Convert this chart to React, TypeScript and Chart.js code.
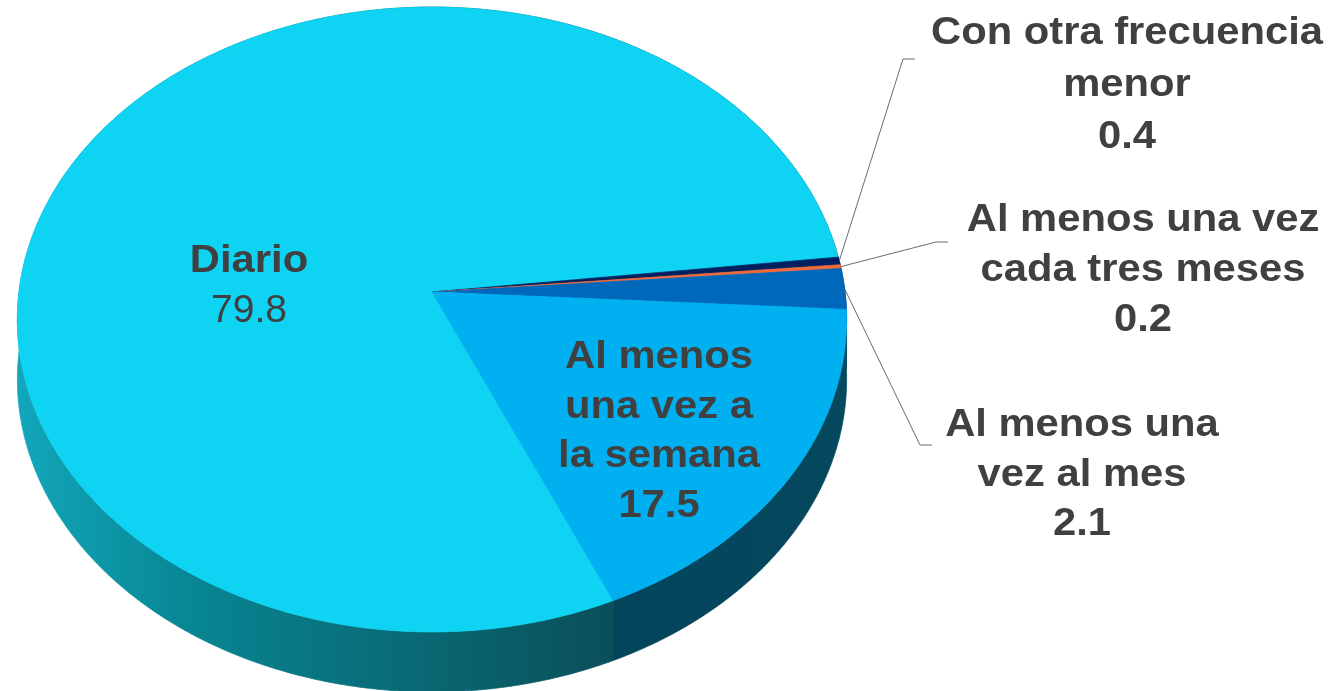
import React, { useEffect, useRef } from 'react';
import { Chart, registerables } from 'chart.js';

Chart.register(...registerables);

// ---- data ----
const categories = [
  'Diario',
  'Con otra frecuencia menor',
  'Al menos una vez cada tres meses',
  'Al menos una vez al mes',
  'Al menos una vez a la semana',
];
const values = [79.8, 0.4, 0.2, 2.1, 17.5];
const labelLines = [
  ['Diario'],
  ['Con otra frecuencia', 'menor'],
  ['Al menos una vez', 'cada tres meses'],
  ['Al menos una', 'vez al mes'],
  ['Al menos', 'una vez a', 'la semana'],
];

// ---- style ----
const topColors = ['#0fd3f3', '#002060', '#f26a3b', '#0068bb', '#00b0f0'];
const sideColors = ['#0a6f7c', '#001238', '#a8461f', '#003f74', '#04465d'];
const ROTATION = 156.2;
const CX = 432, CY = 292, A = 413, B = 310, K = 0.088, DEPTH = 60;
const TEXT = '#404040';
const LEADER = '#6a6a6a';
const FONT = '"Liberation Sans", Arial, Helvetica, sans-serif';
const FS = 39;
const STRETCH = 1.07;

const labelLayout = [
  { x: 249, y: 272, lh: 49.5, valueBold: false, elbow: null as null | number[][] },
  { x: 1127, y: 44, lh: 52, valueBold: true, elbow: [[903, 59], [915, 59]] },
  { x: 1143, y: 231, lh: 50, valueBold: true, elbow: [[936, 242], [948, 242]] },
  { x: 1082, y: 436, lh: 49.5, valueBold: true, elbow: [[920, 445], [932, 445]] },
  { x: 659, y: 368, lh: 49.5, valueBold: true, elbow: null as null | number[][] },
];

const proj = (t: number, dy = 0): [number, number] => {
  const u = Math.cos(t);
  const v = Math.sin(t);
  const den = 1 - K * v;
  return [CX + (A * u) / den, CY + (B * v) / den + dy];
};

const samples = (s: number, e: number) => {
  const n = Math.max(2, Math.ceil((e - s) / (Math.PI / 720)));
  const out: number[] = [];
  for (let i = 0; i <= n; i++) out.push(s + ((e - s) * i) / n);
  return out;
};

const pie3d = {
  id: 'pie3d',
  beforeDatasetsDraw(chart: any) {
    const ctx: CanvasRenderingContext2D = chart.ctx;
    const arcs = chart.getDatasetMeta(0).data as any[];
    const angles = arcs.map((arc) => arc.getProps(['startAngle', 'endAngle'], true));

    // side walls
    angles.forEach(({ startAngle, endAngle }: any, i: number) => {
      const ts = samples(startAngle, endAngle);
      ctx.save();
      ctx.beginPath();
      ts.forEach((t, j) => {
        const [x, y] = proj(t);
        if (j === 0) ctx.moveTo(x, y);
        else ctx.lineTo(x, y);
      });
      for (let j = ts.length - 1; j >= 0; j--) {
        const [x, y] = proj(ts[j], DEPTH);
        ctx.lineTo(x, y);
      }
      ctx.closePath();
      let fill: any = sideColors[i];
      if (i === 0) {
        const g = ctx.createLinearGradient(17, 0, 615, 0);
        g.addColorStop(0, '#12a7bb');
        g.addColorStop(0.3, '#078592');
        g.addColorStop(1, '#0a4f59');
        fill = g;
      } else if (i === 4) {
        const g = ctx.createLinearGradient(613, 0, 850, 0);
        g.addColorStop(0, '#03445b');
        g.addColorStop(1, '#05495f');
        fill = g;
      }
      ctx.fillStyle = fill;
      ctx.strokeStyle = fill;
      ctx.lineWidth = 0.8;
      ctx.fill();
      ctx.stroke();
      ctx.restore();
    });

    // top faces
    angles.forEach(({ startAngle, endAngle }: any, i: number) => {
      const ts = samples(startAngle, endAngle);
      ctx.save();
      ctx.beginPath();
      ctx.moveTo(CX, CY);
      ts.forEach((t) => {
        const [x, y] = proj(t);
        ctx.lineTo(x, y);
      });
      ctx.closePath();
      ctx.fillStyle = topColors[i];
      ctx.strokeStyle = topColors[i];
      ctx.lineWidth = 0.8;
      ctx.lineJoin = 'round';
      ctx.fill();
      ctx.stroke();
      ctx.restore();
    });
    return false;
  },
  afterDraw(chart: any) {
    const ctx: CanvasRenderingContext2D = chart.ctx;
    const arcs = chart.getDatasetMeta(0).data as any[];
    arcs.forEach((arc, i) => {
      const { startAngle, endAngle } = arc.getProps(['startAngle', 'endAngle'], true);
      const lay = labelLayout[i];
      if (lay.elbow) {
        const [sx, sy] = proj((startAngle + endAngle) / 2);
        ctx.save();
        ctx.beginPath();
        ctx.moveTo(sx, sy);
        lay.elbow.forEach(([x, y]) => ctx.lineTo(x, y));
        ctx.strokeStyle = LEADER;
        ctx.lineWidth = 1;
        ctx.stroke();
        ctx.restore();
      }
      const lines = [...labelLines[i], values[i].toFixed(1)];
      lines.forEach((line, j) => {
        const isValue = j === lines.length - 1;
        const bold = !isValue || lay.valueBold;
        ctx.save();
        ctx.translate(lay.x, lay.y + j * lay.lh);
        ctx.scale(bold ? STRETCH : 1, 1);
        ctx.font = `${bold ? 'bold ' : ''}${FS}px ${FONT}`;
        ctx.fillStyle = TEXT;
        ctx.textAlign = 'center';
        ctx.textBaseline = 'alphabetic';
        ctx.fillText(line, 0, 0);
        ctx.restore();
      });
    });
  },
};

export default function App() {
  const ref = useRef<HTMLCanvasElement | null>(null);
  useEffect(() => {
    if (!ref.current) return;
    const chart = new Chart(ref.current, {
      type: 'pie',
      data: {
        labels: categories,
        datasets: [{ data: values, backgroundColor: topColors, borderWidth: 0 }],
      },
      options: {
        responsive: false,
        maintainAspectRatio: false,
        animation: false,
        rotation: ROTATION,
        events: [],
        plugins: { legend: { display: false }, tooltip: { enabled: false } },
      },
      plugins: [pie3d as any],
    });
    return () => chart.destroy();
  }, []);
  return (
    <div style={{ position: 'fixed', left: 0, top: 0, width: 1340, height: 691, background: '#fff' }}>
      <canvas ref={ref} width={1340} height={691} style={{ display: 'block', width: 1340, height: 691 }} />
    </div>
  );
}
